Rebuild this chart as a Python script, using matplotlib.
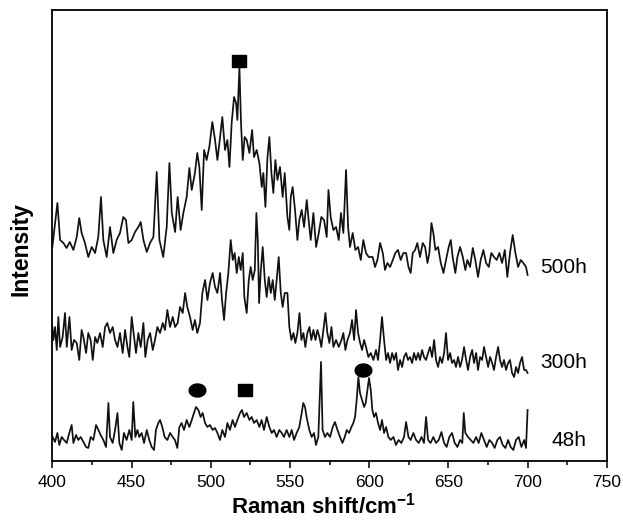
import matplotlib
matplotlib.use('Agg')
import matplotlib.pyplot as plt
from matplotlib.path import Path
import numpy as np

plt.rcParams['font.family'] = ['Liberation Sans', 'DejaVu Sans']
plt.rcParams['mathtext.fontset'] = 'custom'
plt.rcParams['mathtext.rm'] = 'Liberation Sans'
plt.rcParams['mathtext.bf'] = 'Liberation Sans:bold'

# spectra (intensity in arbitrary units, curves already stacked)
shift_500h = [400.0, 403.2, 404.9, 407.0, 409.0, 411.0, 413.3, 415.4, 417.0, 418.5,
              420.6, 422.7, 424.9, 427.0, 429.0, 430.7, 432.2, 434.3, 436.4, 438.5,
              440.6, 442.7, 444.8, 446.5, 448.0, 450.1, 452.2, 454.3, 455.8, 457.5,
              459.6, 461.7, 463.8, 465.9, 467.6, 470.0, 472.2, 473.9, 475.4, 477.5,
              479.1, 481.0, 482.7, 484.8, 486.5, 488.0, 490.0, 491.5, 492.8, 494.3,
              495.8, 497.4, 499.1, 501.0, 502.7, 504.2, 505.9, 507.3, 509.0, 510.5,
              511.8, 513.2, 514.7, 516.0, 516.8, 518.1, 519.1, 520.2, 521.4, 522.7,
              524.4, 526.1, 527.3, 529.0, 530.7, 532.2, 533.2, 534.5, 535.8, 537.0,
              538.3, 539.5, 540.8, 542.1, 543.7, 545.4, 546.7, 548.4, 549.6, 550.5,
              551.7, 553.2, 554.7, 555.9, 557.4, 558.9, 560.6, 561.8, 563.1, 564.8,
              566.5, 568.2, 569.8, 571.5, 573.2, 574.3, 575.7, 577.4, 579.1, 580.8,
              582.2, 583.7, 585.4, 586.7, 587.9, 589.6, 591.3, 593.0, 594.7, 596.3,
              598.0, 599.7, 602.2, 603.7, 605.2, 606.9, 608.6, 610.0, 611.5, 613.2,
              614.9, 616.5, 618.2, 619.9, 621.6, 623.3, 624.8, 626.2, 627.5, 629.0,
              630.4, 632.1, 633.8, 635.3, 636.8, 638.0, 639.3, 640.5, 641.8, 643.5,
              645.2, 646.9, 648.5, 650.2, 651.5, 652.7, 654.4, 655.7, 657.4, 659.1,
              660.7, 662.0, 663.7, 665.4, 667.0, 668.7, 670.4, 672.1, 673.8, 675.5,
              677.1, 678.8, 680.5, 682.2, 683.9, 685.6, 687.2, 688.9, 690.6, 692.3,
              694.0, 695.7, 697.3, 699.0, 700.0]
int_500h = [214, 258, 221, 218, 213, 219, 211, 224, 243, 228,
            218, 204, 214, 208, 224, 264, 221, 204, 234, 208,
            221, 228, 244, 241, 218, 221, 229, 234, 239, 221,
            209, 218, 224, 289, 221, 204, 234, 298, 248, 229,
            264, 231, 248, 264, 293, 271, 288, 308, 294, 251,
            311, 301, 314, 339, 321, 301, 324, 344, 311, 321,
            294, 338, 364, 358, 341, 394, 338, 301, 324, 321,
            308, 331, 304, 311, 298, 274, 288, 254, 304, 324,
            288, 268, 301, 281, 294, 264, 288, 244, 231, 264,
            274, 251, 221, 241, 251, 234, 261, 241, 221, 248,
            214, 228, 244, 241, 224, 271, 244, 231, 234, 221,
            248, 228, 291, 234, 214, 228, 211, 214, 201, 221,
            208, 204, 204, 194, 201, 218, 208, 191, 198, 194,
            201, 208, 211, 201, 208, 208, 194, 188, 208, 211,
            218, 204, 218, 214, 198, 208, 238, 228, 211, 214,
            198, 188, 201, 214, 221, 204, 188, 204, 214, 204,
            191, 201, 194, 213, 201, 184, 201, 211, 198, 194,
            208, 204, 201, 208, 198, 211, 184, 208, 226, 208,
            194, 201, 198, 194, 186]

shift_300h = [400.0, 400.7, 401.7, 402.8, 403.8, 404.9, 406.5, 408.0, 409.1, 410.8,
              412.2, 413.7, 415.4, 417.0, 418.5, 419.6, 421.3, 422.7, 424.2, 425.5,
              427.0, 428.4, 430.1, 431.8, 433.3, 434.7, 436.4, 438.1, 439.6, 441.1,
              442.7, 444.4, 445.9, 447.4, 448.6, 450.1, 451.6, 452.8, 454.3, 455.8,
              457.5, 458.7, 460.2, 461.7, 463.4, 464.8, 466.3, 468.0, 469.7, 471.1,
              472.6, 474.3, 476.0, 477.5, 479.1, 480.6, 482.3, 483.8, 485.2, 486.9,
              488.6, 490.0, 491.5, 493.2, 494.7, 496.4, 497.9, 499.5, 501.2, 502.7,
              504.2, 505.9, 507.1, 508.4, 509.7, 511.1, 512.6, 513.9, 515.1, 516.4,
              517.7, 518.9, 520.2, 521.2, 522.7, 524.0, 525.2, 526.5, 527.8, 528.8,
              529.7, 530.5, 531.5, 532.8, 534.1, 535.3, 536.6, 537.9, 539.1, 540.4,
              541.6, 542.9, 544.2, 545.4, 546.7, 548.4, 549.6, 550.9, 552.2, 553.4,
              554.7, 556.0, 557.2, 558.5, 559.7, 561.0, 562.3, 563.5, 564.8, 566.1,
              567.3, 568.6, 569.8, 571.1, 572.4, 573.6, 574.9, 576.2, 577.4, 579.1,
              580.8, 582.5, 583.7, 585.0, 586.3, 587.9, 589.2, 590.5, 591.7, 593.0,
              594.3, 595.5, 596.8, 598.0, 599.5, 601.0, 602.7, 604.3, 605.6, 606.9,
              608.1, 609.4, 610.7, 611.9, 613.2, 614.5, 615.7, 617.0, 618.2, 619.5,
              620.8, 622.0, 623.3, 624.5, 625.8, 627.1, 628.3, 629.6, 630.9, 632.1,
              633.4, 634.6, 635.9, 637.2, 638.4, 639.7, 641.0, 642.2, 643.5, 644.7,
              646.0, 647.3, 648.5, 649.8, 651.1, 652.3, 653.6, 654.8, 656.1, 657.4,
              658.6, 659.9, 661.2, 662.4, 663.7, 665.0, 666.2, 667.5, 668.7, 670.0,
              671.3, 672.5, 673.8, 675.1, 676.3, 677.6, 678.8, 680.1, 681.4, 682.6,
              683.9, 685.1, 686.4, 687.7, 688.9, 690.2, 691.5, 692.7, 694.0, 695.2,
              696.5, 697.8, 699.0, 700.0]
int_300h = [134, 121, 134, 111, 144, 114, 124, 148, 114, 144,
            111, 121, 118, 101, 131, 124, 108, 128, 121, 101,
            124, 118, 128, 114, 134, 138, 128, 134, 121, 114,
            128, 108, 131, 114, 104, 144, 124, 108, 128, 114,
            138, 104, 121, 128, 111, 121, 134, 128, 138, 131,
            151, 134, 144, 134, 138, 154, 148, 168, 154, 144,
            131, 141, 128, 138, 168, 181, 161, 178, 188, 174,
            168, 188, 161, 141, 168, 188, 221, 201, 208, 188,
            204, 191, 208, 164, 148, 181, 194, 181, 191, 248,
            221, 158, 188, 214, 181, 164, 184, 168, 181, 161,
            181, 204, 168, 154, 168, 168, 134, 121, 128, 118,
            128, 148, 121, 128, 114, 128, 134, 121, 131, 121,
            131, 124, 114, 131, 148, 128, 118, 134, 114, 121,
            114, 121, 128, 111, 121, 128, 141, 121, 151, 128,
            118, 111, 121, 114, 104, 108, 101, 111, 101, 121,
            144, 121, 101, 108, 98, 108, 101, 108, 91, 101,
            94, 104, 108, 101, 104, 98, 108, 101, 108, 101,
            111, 104, 101, 108, 114, 104, 121, 101, 94, 104,
            98, 108, 128, 101, 108, 98, 101, 94, 104, 94,
            101, 114, 101, 91, 104, 111, 98, 108, 91, 104,
            101, 114, 104, 94, 104, 98, 91, 104, 114, 101,
            94, 101, 91, 98, 101, 88, 84, 94, 88, 98,
            104, 91, 91, 88]

shift_48h = [400.2, 401.7, 403.2, 404.4, 405.9, 407.4, 409.1, 410.7, 412.2, 413.3,
             415.0, 416.4, 417.9, 419.6, 421.3, 422.7, 424.2, 425.9, 427.6, 429.1,
             430.5, 432.2, 433.9, 435.4, 436.4, 438.1, 439.6, 441.1, 442.3, 443.8,
             445.2, 446.9, 448.6, 450.1, 451.1, 452.4, 453.7, 454.9, 456.4, 457.9,
             459.6, 461.2, 462.7, 464.2, 465.4, 466.9, 468.0, 469.4, 470.9, 472.6,
             474.3, 476.0, 477.4, 478.9, 480.2, 481.6, 483.1, 484.8, 486.5, 488.0,
             489.4, 490.7, 492.2, 493.6, 494.9, 496.4, 497.9, 499.5, 501.2, 502.7,
             504.2, 505.8, 507.3, 509.0, 510.5, 512.1, 513.8, 515.3, 516.8, 518.5,
             519.7, 521.0, 522.7, 524.4, 525.8, 527.3, 529.0, 530.7, 532.1, 533.6,
             535.3, 537.0, 538.5, 539.9, 541.6, 543.3, 544.8, 546.2, 547.9, 549.6,
             551.1, 552.6, 554.2, 555.9, 557.4, 558.4, 559.5, 560.5, 562.2, 563.7,
             565.2, 566.4, 567.9, 569.6, 570.6, 572.1, 573.6, 575.3, 577.0, 578.4,
             580.0, 581.6, 583.1, 584.6, 585.8, 587.3, 588.8, 590.0, 591.1, 592.1,
             593.2, 594.2, 595.5, 596.8, 597.8, 598.9, 599.9, 601.0, 602.0, 603.1,
             604.3, 605.6, 606.9, 608.1, 609.4, 610.7, 612.1, 613.6, 615.3, 616.9,
             618.6, 620.3, 622.0, 623.3, 624.8, 626.2, 627.9, 629.6, 631.3, 633.0,
             634.6, 635.9, 637.2, 638.8, 640.5, 642.2, 643.9, 645.6, 647.3, 648.9,
             650.6, 652.3, 654.0, 655.7, 657.4, 658.8, 659.7, 660.7, 662.4, 664.1,
             665.8, 667.5, 669.1, 670.8, 672.5, 674.2, 675.9, 677.6, 679.2, 680.9,
             682.6, 684.3, 686.0, 687.7, 689.3, 691.0, 692.7, 694.4, 696.1, 697.8,
             699.0, 700.0]
int_48h = [24, 19, 28, 16, 24, 21, 18, 28, 36, 18,
           26, 21, 24, 19, 14, 13, 24, 21, 36, 31,
           26, 21, 14, 58, 24, 18, 31, 48, 18, 11,
           28, 21, 31, 21, 59, 24, 31, 24, 28, 18,
           31, 21, 14, 11, 31, 38, 41, 34, 24, 21,
           28, 24, 21, 13, 34, 38, 31, 41, 34, 41,
           48, 54, 51, 44, 48, 38, 34, 36, 31, 33,
           28, 21, 31, 24, 38, 31, 41, 34, 41, 48,
           51, 44, 48, 41, 44, 38, 41, 34, 41, 31,
           44, 34, 28, 31, 24, 31, 28, 24, 31, 24,
           31, 21, 28, 34, 48, 58, 54, 44, 31, 24,
           28, 16, 24, 99, 31, 24, 28, 24, 34, 39,
           31, 24, 18, 24, 31, 28, 34, 38, 44, 61,
           84, 68, 61, 54, 58, 71, 83, 71, 51, 44,
           48, 38, 31, 41, 28, 34, 24, 21, 24, 16,
           21, 18, 24, 39, 24, 21, 28, 21, 18, 24,
           18, 44, 21, 18, 24, 18, 21, 29, 18, 14,
           24, 28, 18, 14, 21, 18, 48, 28, 24, 21,
           18, 24, 18, 28, 21, 14, 21, 18, 13, 21,
           24, 16, 13, 21, 14, 11, 21, 24, 14, 21,
           13, 51]

labels = ['500h', '300h', '48h']
label_y = [193, 98, 20]

# phase markers (square / circle) above peaks
square_x = [517.7, 521.8]
square_y = [400, 71]
circle_x = [491.5, 596.3]
circle_y = [71, 91]


def main():
    fig = plt.figure(figsize=(6.23, 5.21), dpi=100)
    ax = fig.add_axes([0.084, 0.1152, 0.890, 0.8656])

    for xs, ys in [(shift_500h, int_500h), (shift_300h, int_300h), (shift_48h, int_48h)]:
        ax.plot(xs, ys, color='#111111', lw=1.25)

    # slightly wide markers, as in the picture
    sq = Path([(-1, -0.85), (1, -0.85), (1, 0.85), (-1, 0.85), (-1, -0.85)],
              [Path.MOVETO, Path.LINETO, Path.LINETO, Path.LINETO, Path.CLOSEPOLY])
    t = np.linspace(0, 2 * np.pi, 60)
    el = Path(np.column_stack([np.cos(t), 0.78 * np.sin(t)]))
    ax.plot(square_x, square_y, ls='none', marker=sq, ms=10.5, color='black')
    ax.plot(circle_x, circle_y, ls='none', marker=el, ms=12, color='black')

    for lab, yy in zip(labels, label_y):
        ax.text(737.5, yy, lab, ha='right', va='center', fontsize=15)

    ax.set_xlim(400, 750)
    ax.set_ylim(0, 451)
    ax.set_xticks(np.arange(400, 751, 50))
    ax.set_xticks(np.arange(425, 750, 50), minor=True)
    ax.tick_params(axis='x', which='major', direction='out', length=5, width=1.1,
                   labelsize=12.5, pad=5)
    ax.tick_params(axis='x', which='minor', direction='out', length=3.2, width=1.1)
    ax.set_yticks([])
    for s in ax.spines.values():
        s.set_linewidth(1.3)

    ax.set_xlabel(r'Raman shift/cm$^{\mathbf{-1}}$', fontsize=16, fontweight='bold')
    ax.xaxis.label.set_va('baseline')
    ax.xaxis.set_label_coords(0.49, -0.117)
    ax.set_ylabel('Intensity', fontsize=16.5, fontweight='bold')
    ax.yaxis.label.set_va('center')
    ax.yaxis.set_label_coords(-0.0565, 0.47)

    fig.savefig('out.png', dpi=100)


if __name__ == "__main__":
    main()
